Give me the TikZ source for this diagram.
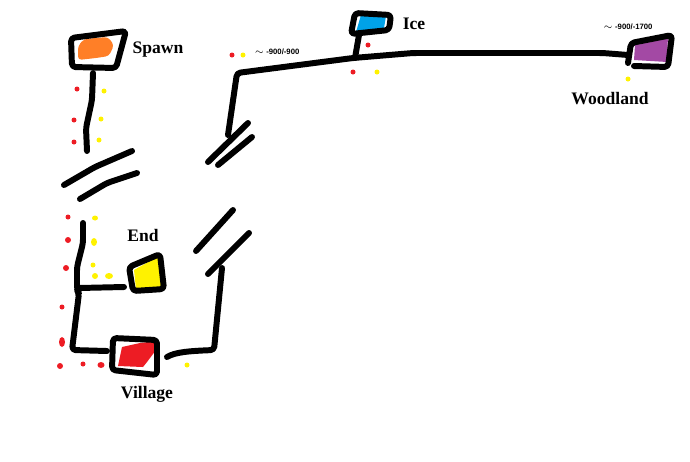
\documentclass[tikz,border=0pt]{standalone}
\usepackage{fontspec}
\setmainfont{Liberation Serif}
\newfontfamily\coordfont{Liberation Sans}
\definecolor{spawncol}{RGB}{255,127,39}
\definecolor{icecol}{RGB}{0,162,232}
\definecolor{woodcol}{RGB}{163,73,164}
\definecolor{endcol}{RGB}{255,242,0}
\definecolor{villagecol}{RGB}{237,28,36}
\tikzset{
    road/.style={line width=3.4pt, line cap=round, line join=round, rounded corners=2pt},
    redmark/.style={fill=villagecol},
    yellowmark/.style={fill=endcol},
    place/.style={font=\bfseries\fontsize{10}{11}\selectfont},
    height/.style={font=\coordfont\bfseries\fontsize{4.4}{5}\selectfont}
}

\begin{document}
\begin{tikzpicture}[x=0.02cm, y=-0.02cm]
\useasboundingbox (0,0) rectangle (690,461);

% rooms
\fill[spawncol, rounded corners=2pt] (78,46) -- (84,39) -- (108,37) -- (114,45) -- (109,56) -- (96,58) -- (78,60) -- cycle;
\draw[road] (71,38) -- (126,31) -- (116,68) -- (72,67) -- cycle;
\fill[icecol] (361,15) -- (386,16) -- (384,28) -- (363,33) -- (356,32) -- cycle;
\draw[road] (355,13) -- (391,15) -- (389,30) -- (351,34) -- cycle;
\fill[woodcol] (635,45) -- (668,35) -- (667,62) -- (634,60) -- cycle;
\draw[road] (628,63) -- (631,43) -- (672,35) -- (668,67) -- (634,66);
\fill[endcol] (134,270) -- (159,256) -- (162,288) -- (136,289) -- cycle;
\draw[road] (129,267) -- (160,254) -- (164,289) -- (133,291) -- cycle;
\fill[villagecol] (122,347) -- (140,343) -- (157,341) -- (156,350) -- (147,362) -- (143,367) -- (118,366) -- cycle;
\draw[road] (113,338) -- (157,340) -- (157,375) -- (112,370) -- cycle;

% corridors
\draw[road] (93,73) -- (92,100) -- (86,128) -- (87,151);
\draw[road] (83,223) -- (83,243) -- (77,267) -- (77,290) -- (79,293) -- (72,350) -- (107,351);
\draw[road] (79,288) -- (124,287);
\draw[road] (167,357) .. controls (175,352) and (190,351) .. (214,350) -- (222,268);
\draw[road] (228,135) -- (237,73) -- (353,58) -- (413,53) -- (603,53) -- (628,55);
\draw[road] (355,58) -- (359,35);

% breaks in the route
\draw[road] (64,185) -- (95,167) -- (132,151);
\draw[road] (80,199) -- (107,183) -- (137,173);
\draw[road] (196,251) -- (233,210);
\draw[road] (208,274) -- (249,233);
\draw[road] (208,162) -- (248,123);
\draw[road] (218,165) -- (252,137);

% red marks
\fill[redmark] (77,89) circle (2.5);
\fill[redmark] (74,120) circle (2.5);
\fill[redmark] (74,142) circle (2.5);
\fill[redmark] (68,217) circle (2.5);
\fill[redmark] (68,240) circle (3);
\fill[redmark] (66,268) circle (3);
\fill[redmark] (62,307) circle (2.5);
\fill[redmark] (62,342) ellipse (3 and 5);
\fill[redmark] (60,366) circle (3);
\fill[redmark] (83,364) circle (2.5);
\fill[redmark] (101,365) ellipse (3.5 and 3);
\fill[redmark] (232,55) circle (2.5);
\fill[redmark] (368,45) circle (2.5);
\fill[redmark] (353,72) circle (2.5);

% yellow marks
\fill[yellowmark] (104,91) circle (2.5);
\fill[yellowmark] (101,119) circle (2.5);
\fill[yellowmark] (99,140) circle (2.5);
\fill[yellowmark] (95,218) ellipse (3 and 2.5);
\fill[yellowmark] (94,242) ellipse (3 and 4);
\fill[yellowmark] (93,265) circle (2.5);
\fill[yellowmark] (95,276) circle (3);
\fill[yellowmark] (109,276) ellipse (4 and 3);
\fill[yellowmark] (187,365) circle (2.5);
\fill[yellowmark] (243,55) circle (2.5);
\fill[yellowmark] (377,72) circle (2.5);
\fill[yellowmark] (628,79) circle (2.5);

% names
\node[place] (spawn) at (158,50) {Spawn};
\node[place] (ice) at (414,24) {Ice};
\node[place] (woodland) at (610,99) {Woodland};
\node[place] (end) at (143,235) {End};
\node[place] (village) at (147,394) {Village};
\node[height] (icepos) at (277,52) {$\sim$ -900/-900};
\node[height] (woodpos) at (628,27) {$\sim$ -900/-1700};
\end{tikzpicture}
\end{document}
